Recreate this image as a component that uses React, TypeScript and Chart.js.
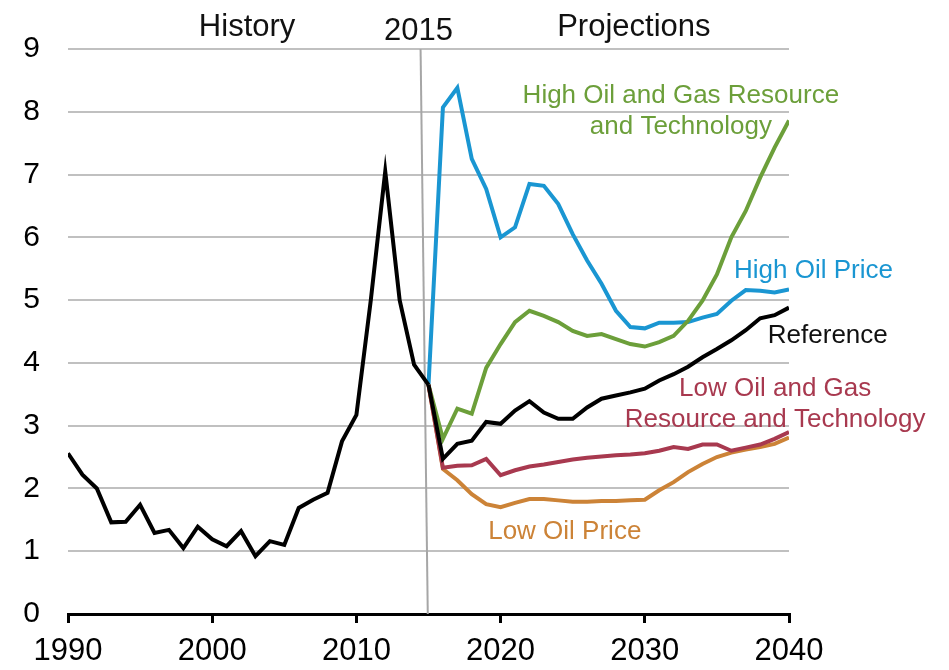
import React, { useEffect, useRef } from "react";
import { Chart, registerables } from "chart.js";

Chart.register(...registerables);

// ---- Data ----
const historyYears = [1990, 1991, 1992, 1993, 1994, 1995, 1996, 1997, 1998, 1999, 2000, 2001, 2002, 2003, 2004, 2005, 2006, 2007, 2008, 2009, 2010, 2011, 2012, 2013, 2014, 2015];
const historyValues = [2.56, 2.22, 2.0, 1.46, 1.47, 1.74, 1.29, 1.34, 1.05, 1.39, 1.19, 1.08, 1.32, 0.92, 1.16, 1.1, 1.69, 1.82, 1.93, 2.75, 3.17, 5.0, 7.05, 5.0, 3.97, 3.65];

const projectionYears = [2015, 2016, 2017, 2018, 2019, 2020, 2021, 2022, 2023, 2024, 2025, 2026, 2027, 2028, 2029, 2030, 2031, 2032, 2033, 2034, 2035, 2036, 2037, 2038, 2039, 2040];
const referenceValues = [3.65, 2.47, 2.71, 2.76, 3.06, 3.03, 3.24, 3.39, 3.21, 3.11, 3.11, 3.29, 3.43, 3.48, 3.53, 3.59, 3.72, 3.82, 3.94, 4.09, 4.22, 4.36, 4.52, 4.71, 4.76, 4.88];
const highOilPriceValues = [3.65, 8.07, 8.38, 7.25, 6.77, 6.0, 6.16, 6.85, 6.82, 6.53, 6.05, 5.63, 5.26, 4.83, 4.57, 4.55, 4.64, 4.64, 4.65, 4.72, 4.78, 4.99, 5.16, 5.15, 5.12, 5.17];
const highResourceValues = [3.65, 2.79, 3.27, 3.19, 3.92, 4.3, 4.65, 4.83, 4.75, 4.65, 4.51, 4.43, 4.46, 4.38, 4.3, 4.26, 4.33, 4.43, 4.67, 4.99, 5.41, 6.0, 6.42, 6.95, 7.43, 7.86];
const lowResourceValues = [3.65, 2.33, 2.36, 2.37, 2.47, 2.21, 2.29, 2.35, 2.38, 2.42, 2.46, 2.49, 2.51, 2.53, 2.54, 2.56, 2.6, 2.66, 2.63, 2.7, 2.7, 2.6, 2.65, 2.7, 2.79, 2.9];
const lowOilPriceValues = [3.65, 2.31, 2.13, 1.91, 1.75, 1.7, 1.77, 1.83, 1.83, 1.81, 1.79, 1.79, 1.8, 1.8, 1.81, 1.82, 1.97, 2.1, 2.26, 2.39, 2.5, 2.57, 2.62, 2.66, 2.71, 2.81];

// divider between history and projections (year, value)
const dividerYears = [2014.45, 2014.95];
const dividerValues = [9, 0];

// ---- Styles ----
const FONT = '"Liberation Sans", Arial, Helvetica, sans-serif';
const BLACK = "#000000";
const BLUE = "#1a96d2";
const GREEN = "#6c9f3a";
const RED = "#a8394f";
const ORANGE = "#cc8337";

type Note = { text: string; x: number; y: number; color: string; align: CanvasTextAlign; size: number };
const notes: Note[] = [
  { text: "History", x: 2002.42, y: 9.2, color: "#111", align: "center", size: 31 },
  { text: "2015", x: 2014.3, y: 9.14, color: "#111", align: "center", size: 31 },
  { text: "Projections", x: 2029.24, y: 9.2, color: "#111", align: "center", size: 31 },
  { text: "High Oil and Gas Resource", x: 2032.5, y: 8.14, color: GREEN, align: "center", size: 26 },
  { text: "and Technology", x: 2032.5, y: 7.64, color: GREEN, align: "center", size: 26 },
  { text: "High Oil Price", x: 2036.19, y: 5.35, color: BLUE, align: "left", size: 26 },
  { text: "Reference", x: 2038.53, y: 4.32, color: "#111", align: "left", size: 26 },
  { text: "Low Oil and Gas", x: 2039.04, y: 3.465, color: RED, align: "center", size: 26 },
  { text: "Resource and Technology", x: 2039.04, y: 2.98, color: RED, align: "center", size: 26 },
  { text: "Low Oil Price", x: 2024.45, y: 1.19, color: ORANGE, align: "center", size: 26 },
];

const pts = (xs: number[], ys: number[]) => xs.map((x, i) => ({ x, y: ys[i] }));

const notesPlugin = {
  id: "notes",
  afterDatasetsDraw(chart: any) {
    const { ctx, scales } = chart;
    const xs = scales.x;
    const ys = scales.y;
    ctx.save();
    ctx.textBaseline = "alphabetic";
    for (const n of notes) {
      ctx.font = `${n.size}px ${FONT}`;
      ctx.fillStyle = n.color;
      ctx.textAlign = n.align;
      ctx.fillText(n.text, xs.getPixelForValue(n.x), ys.getPixelForValue(n.y));
    }
    ctx.restore();
  },
};

export default function App() {
  const ref = useRef<HTMLCanvasElement | null>(null);

  useEffect(() => {
    if (!ref.current) return;
    const line = (data: any, color: string, order: number, width = 4) => ({
      data,
      borderColor: color,
      backgroundColor: color,
      borderWidth: width,
      pointRadius: 0,
      tension: 0,
      fill: false,
      order,
      borderJoinStyle: "miter" as const,
    });
    const chart = new Chart(ref.current, {
      type: "line",
      data: {
        datasets: [
          line(pts(dividerYears, dividerValues), "#a6a6a6", 20, 2),
          line(pts(projectionYears, highOilPriceValues), BLUE, 9),
          line(pts(projectionYears, highResourceValues), GREEN, 8),
          line(pts(projectionYears, lowOilPriceValues), ORANGE, 7),
          line(pts(projectionYears, lowResourceValues), RED, 6),
          line(pts(projectionYears, referenceValues), BLACK, 5),
          line(pts(historyYears, historyValues), BLACK, 4),
        ],
      },
      options: {
        responsive: false,
        animation: false,
        layout: { padding: { top: 49, right: 160, left: 0, bottom: 0 } },
        plugins: { legend: { display: false }, tooltip: { enabled: false } },
        scales: {
          x: {
            type: "linear",
            min: 1990,
            max: 2040,
            afterFit: (s: any) => {
              s.height = 56;
            },
            ticks: {
              stepSize: 10,
              color: BLACK,
              padding: 10,
              maxRotation: 0,
              font: { family: FONT, size: 31 },
              callback: (v: any) => String(v),
            },
            grid: { drawOnChartArea: false, drawTicks: true, tickLength: 9, color: BLACK, lineWidth: 3 },
            border: { display: true, color: BLACK, width: 3 },
          },
          y: {
            min: 0,
            max: 9,
            afterFit: (s: any) => {
              s.width = 68;
            },
            ticks: {
              stepSize: 1,
              color: BLACK,
              padding: 28,
              font: { family: FONT, size: 30 },
            },
            grid: { color: "#c0c0c0", lineWidth: 2, drawTicks: false },
            border: { display: false },
          },
        },
      },
      plugins: [notesPlugin],
    });
    return () => chart.destroy();
  }, []);

  return (
    <div style={{ position: "absolute", left: 0, top: 0, width: 949, height: 670, background: "#fff" }}>
      <canvas ref={ref} width={949} height={670} />
    </div>
  );
}
